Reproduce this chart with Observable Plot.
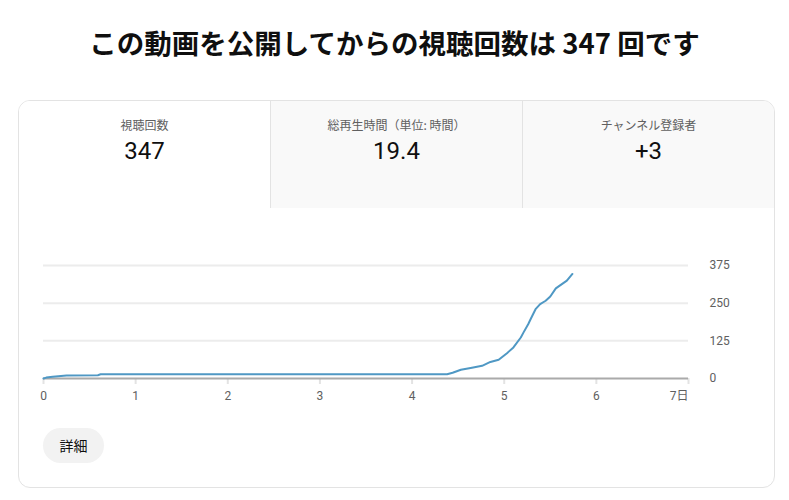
<!DOCTYPE html>
<html>
<head>
<meta charset="utf-8">
<script src="https://cdn.jsdelivr.net/npm/d3@7"></script>
<script src="https://cdn.jsdelivr.net/npm/@observablehq/plot@0.6"></script>
<style>
  body { margin:0; width:789px; height:500px; position:relative; background:#fff; font-family: Roboto, "Noto Sans CJK JP", sans-serif; overflow:hidden; }
  #title { position:absolute; left:0; top:28px; width:789px; text-align:center; font-family:"Noto Sans CJK JP", sans-serif; font-weight:700; font-size:27.5px; line-height:28px; color:#0f0f0f; letter-spacing:0px; }
  #card { position:absolute; left:18px; top:100px; width:757px; height:388px; box-sizing:border-box; border:1px solid #e3e3e3; border-radius:12px; overflow:hidden; }
  .tab { position:absolute; top:0; height:107px; box-sizing:border-box; }
  .tab .lbl { position:absolute; left:0; right:0; top:16px; text-align:center; font-family:"Noto Sans CJK JP", sans-serif; font-size:12px; line-height:16px; color:#606060; }
  .tab .val { position:absolute; left:0; right:0; top:36px; text-align:center; font-family:Roboto, sans-serif; font-size:24px; line-height:28px; color:#0f0f0f; }
  #btn { position:absolute; left:43px; top:428px; width:61px; height:35px; border-radius:18px; background:#f2f2f2; text-align:center; line-height:35px; font-family:"Noto Sans CJK JP", sans-serif; font-size:14px; color:#0f0f0f; }
  #chart { position:absolute; left:18px; top:240px; }
</style>
</head>
<body>
<div id="title"></div>
<div id="card"></div>
<div id="chart"></div>
<div id="btn">詳細</div>
<script>
const titleText = "この動画を公開してからの視聴回数は 347 回です";
const tabLabels = ["視聴回数", "総再生時間（単位: 時間）", "チャンネル登録者"];
const tabValues = ["347", "19.4", "+3"];
const days  = [0, 0.03, 0.10, 0.25, 0.59, 0.62, 4.38, 4.44, 4.53, 4.65, 4.76, 4.85, 4.94, 5.03, 5.10, 5.18, 5.21, 5.26, 5.29, 5.34, 5.39, 5.45, 5.50, 5.56, 5.61, 5.68, 5.74];
const views = [0, 3, 6, 10, 11, 14, 14, 19, 29, 36, 42, 55, 62, 84, 103, 136, 153, 180, 199, 230, 247, 258, 272, 299, 310, 325, 347];
const xTicks = [0, 1, 2, 3, 4, 5, 6, 7];
const yTicks = [0, 125, 250, 375];
const lastTickSuffix = "日";

document.getElementById("title").textContent = titleText;

const card = document.getElementById("card");
const tabLefts = [0, 251, 503];
const tabWidths = [251, 252, 252];
tabLabels.forEach((l, i) => {
  const t = document.createElement("div");
  t.className = "tab";
  t.style.left = tabLefts[i] + "px";
  t.style.width = tabWidths[i] + "px";
  t.style.background = i === 0 ? "#ffffff" : "#f9f9f9";
  if (i > 0) t.style.borderLeft = "1px solid #e3e3e3";
  const a = document.createElement("div"); a.className = "lbl"; a.textContent = l;
  const b = document.createElement("div"); b.className = "val"; b.textContent = tabValues[i];
  t.appendChild(a); t.appendChild(b);
  card.appendChild(t);
});

const data = days.map((d, i) => ({day: d, views: views[i]}));

const chart = Plot.plot({
  width: 740,
  height: 170,
  marginLeft: 25,
  marginRight: 70,
  marginTop: 25,
  marginBottom: 32,
  x: {domain: [0, 7]},
  y: {domain: [0, 375]},
  style: {fontFamily: "Roboto, 'Noto Sans CJK JP', sans-serif", fontSize: "12px", background: "transparent", overflow: "visible"},
  marks: [
    Plot.ruleY(yTicks.filter(d => d > 0), {stroke: "#ececec", strokeWidth: 2}),
    Plot.axisX(xTicks.slice(0, -1), {tickSize: 6, tickPadding: 7, stroke: "#e3e3e3", strokeWidth: 2, fill: "#606060", label: null, tickFormat: d => String(d)}),
    Plot.axisX(xTicks.slice(-1), {tickSize: 6, tickPadding: 7, stroke: "#e3e3e3", strokeWidth: 2, fill: "#606060", label: null, textAnchor: "end", tickFormat: d => d + lastTickSuffix}),
    Plot.ruleY([0], {stroke: "#aaaaaa", strokeWidth: 2}),
    Plot.axisY(yTicks, {anchor: "right", tickSize: 0, tickPadding: 21, fill: "#606060", label: null}),
    Plot.line(data, {x: "day", y: "views", stroke: "#4f98c4", strokeWidth: 2})
  ]
});
document.getElementById("chart").appendChild(chart);
</script>
</body>
</html>
